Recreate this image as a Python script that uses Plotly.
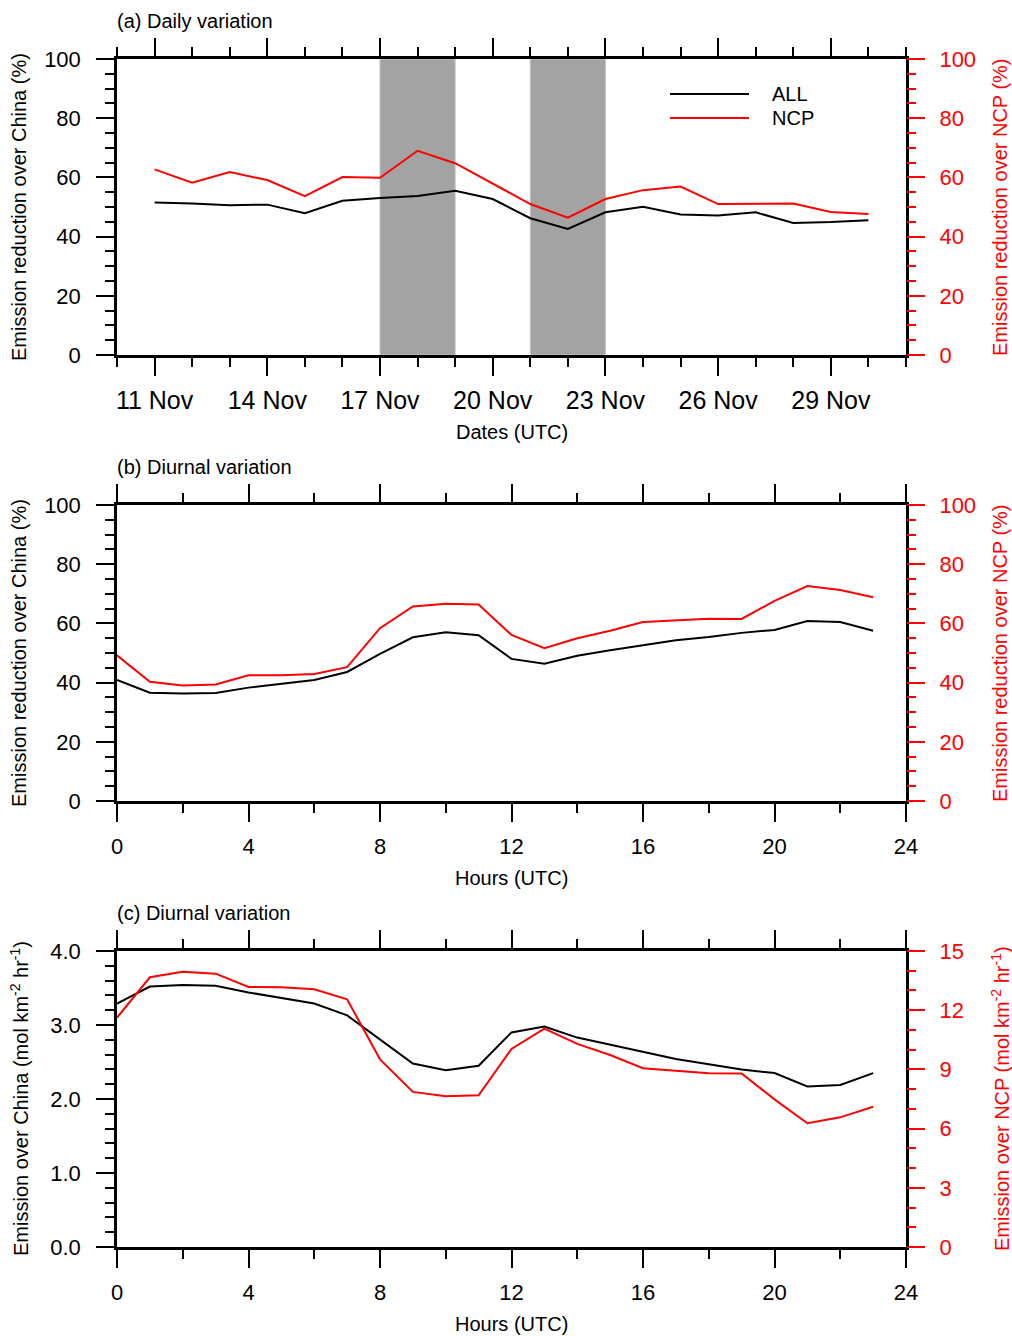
import plotly.graph_objects as go

# ---------------- data ----------------
days = list(range(11, 31))                      # 11 Nov .. 30 Nov
day_tickvals = [11, 14, 17, 20, 23, 26, 29]
day_ticktext = ["11 Nov", "14 Nov", "17 Nov", "20 Nov", "23 Nov", "26 Nov", "29 Nov"]
shade_periods = [(17, 19), (21, 23)]

daily_all = [51.5, 51.2, 50.6, 50.8, 47.9, 52.1, 53.0, 53.7, 55.5, 52.7,
             46.2, 42.6, 48.2, 50.1, 47.5, 47.1, 48.2, 44.6, 44.9, 45.5]
daily_ncp = [62.7, 58.2, 61.8, 59.1, 53.7, 60.1, 59.9, 69.0, 64.8, 58.0,
             51.0, 46.4, 52.7, 55.7, 56.9, 51.0, 51.2, 51.2, 48.3, 47.6]

hours = list(range(0, 24))
diurnal_red_all = [40.9, 36.6, 36.3, 36.5, 38.3, 39.6, 40.9, 43.6, 49.7, 55.3, 57.0, 56.0,
                   48.0, 46.4, 49.1, 50.9, 52.6, 54.3, 55.4, 56.8, 57.8, 60.8, 60.5, 57.5]
diurnal_red_ncp = [49.2, 40.3, 39.0, 39.4, 42.5, 42.5, 42.9, 45.2, 58.4, 65.7, 66.6, 66.4,
                   56.1, 51.6, 55.0, 57.5, 60.5, 61.1, 61.6, 61.5, 67.6, 72.6, 71.3, 68.8]

emis_all = [3.29, 3.52, 3.54, 3.53, 3.44, 3.36, 3.29, 3.13, 2.81, 2.48, 2.39, 2.45,
            2.90, 2.98, 2.83, 2.73, 2.63, 2.54, 2.47, 2.40, 2.35, 2.17, 2.19, 2.35]
emis_ncp = [11.62, 13.67, 13.95, 13.85, 13.18, 13.16, 13.06, 12.55, 9.51, 7.86, 7.64, 7.69,
            10.04, 11.07, 10.29, 9.73, 9.06, 8.92, 8.80, 8.79, 7.48, 6.27, 6.57, 7.11]

# ---------------- layout helpers ----------------
W, H = 1012, 1336
FONT = "Liberation Sans, Arial, Helvetica, sans-serif"
RED = "#ff0000"
x0, x1 = 117, 906
panels = [(59, 355), (505, 801), (951, 1247)]   # top/bottom pixel of each plot area


def py(p):
    return 1 - p / H


fig = go.Figure()

# panel (a)
fig.add_trace(go.Scatter(x=days, y=daily_all, mode="lines", line=dict(color="black", width=2),
                         xaxis="x", yaxis="y", showlegend=False))
fig.add_trace(go.Scatter(x=days, y=daily_ncp, mode="lines", line=dict(color=RED, width=2),
                         xaxis="x", yaxis="y2", showlegend=False))
# panel (b)
fig.add_trace(go.Scatter(x=hours, y=diurnal_red_all, mode="lines", line=dict(color="black", width=2),
                         xaxis="x2", yaxis="y3", showlegend=False))
fig.add_trace(go.Scatter(x=hours, y=diurnal_red_ncp, mode="lines", line=dict(color=RED, width=2),
                         xaxis="x2", yaxis="y4", showlegend=False))
# panel (c)
fig.add_trace(go.Scatter(x=hours, y=emis_all, mode="lines", line=dict(color="black", width=2),
                         xaxis="x3", yaxis="y5", showlegend=False))
fig.add_trace(go.Scatter(x=hours, y=emis_ncp, mode="lines", line=dict(color=RED, width=2),
                         xaxis="x3", yaxis="y6", showlegend=False))

xdom = [x0 / W, x1 / W]
MAJ, MIN = 18, 9


def xaxis_cfg(anchor, rng, tickfont_size, standoff, **kw):
    d = dict(domain=xdom, anchor=anchor, range=rng, showgrid=False, zeroline=False,
             automargin=False,
             showline=True, linecolor="black", linewidth=2.5, mirror="ticks",
             ticks="outside", ticklen=MAJ, tickwidth=2, tickcolor="black",
             tickfont=dict(family=FONT, size=tickfont_size, color="black"),
             ticklabelstandoff=standoff)
    d.update(kw)
    return d


def yleft_cfg(anchor, dom, rng, dtick, minor_dtick, fmt=None):
    d = dict(domain=dom, anchor=anchor, range=rng, showgrid=False, zeroline=False,
             automargin=False,
             showline=True, linecolor="black", linewidth=2.5, mirror=True,
             ticks="outside", ticklen=MAJ, tickwidth=2, tickcolor="black",
             tick0=0, dtick=dtick,
             minor=dict(ticks="outside", ticklen=MIN, tickwidth=1.5, tickcolor="black",
                        dtick=minor_dtick, tick0=0, showgrid=False),
             tickfont=dict(family=FONT, size=22, color="black"),
             ticklabelstandoff=11)
    if fmt:
        d["tickformat"] = fmt
    return d


def yright_cfg(anchor, overlay, rng, dtick, minor_dtick):
    return dict(anchor=anchor, overlaying=overlay, side="right", range=rng,
                showgrid=False, zeroline=False, showline=False, automargin=False,
                ticks="outside", ticklen=MAJ, tickwidth=2, tickcolor=RED,
                tick0=0, dtick=dtick,
                minor=dict(ticks="outside", ticklen=MIN, tickwidth=1.5, tickcolor=RED,
                           dtick=minor_dtick, tick0=0, showgrid=False),
                tickfont=dict(family=FONT, size=22, color=RED),
                ticklabelstandoff=10)


doms = [[py(b), py(t)] for (t, b) in panels]

fig.update_layout(
    width=W, height=H, autosize=False,
    margin=dict(l=0, r=0, t=0, b=0, pad=0),
    paper_bgcolor="white", plot_bgcolor="white",
    font=dict(family=FONT, color="black"),
    showlegend=False,
    xaxis=xaxis_cfg("y", [10, 31], 25, 3, tickvals=day_tickvals, ticktext=day_ticktext,
                    minor=dict(ticks="outside", ticklen=MIN, tickwidth=1.5, tickcolor="black",
                               tick0=10, dtick=1, showgrid=False)),
    yaxis=yleft_cfg("x", doms[0], [0, 100], 20, 5),
    yaxis2=yright_cfg("x", "y", [0, 100], 20, 5),
    xaxis2=xaxis_cfg("y3", [0, 24], 22, 6, tick0=0, dtick=4,
                     minor=dict(ticks="outside", ticklen=MIN, tickwidth=1.5, tickcolor="black",
                                tick0=0, dtick=2, showgrid=False)),
    yaxis3=yleft_cfg("x2", doms[1], [0, 100], 20, 5),
    yaxis4=yright_cfg("x2", "y3", [0, 100], 20, 5),
    xaxis3=xaxis_cfg("y5", [0, 24], 22, 6, tick0=0, dtick=4,
                     minor=dict(ticks="outside", ticklen=MIN, tickwidth=1.5, tickcolor="black",
                                tick0=0, dtick=2, showgrid=False)),
    yaxis5=yleft_cfg("x3", doms[2], [0, 4], 1, 0.2, fmt=".1f"),
    yaxis6=yright_cfg("x3", "y5", [0, 15], 3, 1),
)

# shaded periods in panel (a)
for (s, e) in shade_periods:
    fig.add_shape(type="rect", xref="x", yref="y domain", x0=s, x1=e, y0=0, y1=1,
                  fillcolor="#a3a3a3", line=dict(color="#c4c4c4", width=1), layer="below")

# legend (panel a)
legend_items = [("ALL", "black", 94), ("NCP", RED, 118)]
for name, col, yy in legend_items:
    fig.add_shape(type="line", xref="paper", yref="paper", x0=670 / W, x1=749 / W,
                  y0=py(yy), y1=py(yy), line=dict(color=col, width=2))
    fig.add_annotation(text=name, xref="paper", yref="paper", x=770 / W, y=py(yy),
                       xanchor="left", yanchor="middle", showarrow=False,
                       font=dict(family=FONT, size=20, color="black"))

# panel titles
titles = ["(a) Daily variation", "(b) Diurnal variation", "(c) Diurnal variation"]
for ttl, (t, b) in zip(titles, panels):
    fig.add_annotation(text=ttl, xref="paper", yref="paper", x=115 / W, y=py(t - 38),
                       xanchor="left", yanchor="middle", showarrow=False,
                       font=dict(family=FONT, size=20, color="black"))

# x-axis titles
xtitles = ["Dates (UTC)", "Hours (UTC)", "Hours (UTC)"]
for ttl, (t, b) in zip(xtitles, panels):
    fig.add_annotation(text=ttl, xref="paper", yref="paper", x=512 / W, y=py(b + 77),
                       xanchor="center", yanchor="middle", showarrow=False,
                       font=dict(family=FONT, size=20, color="black"))

# y-axis titles
ylt = ["Emission reduction over China (%)", "Emission reduction over China (%)",
       "Emission over China (mol km<sup>-2</sup> hr<sup>-1</sup>)"]
yrt = ["Emission reduction over NCP (%)", "Emission reduction over NCP (%)",
       "Emission over NCP (mol km<sup>-2</sup> hr<sup>-1</sup>)"]
for lt, rt, (t, b) in zip(ylt, yrt, panels):
    yc = py((t + b) / 2)
    fig.add_annotation(text=lt, xref="paper", yref="paper", x=19 / W, y=yc,
                       xanchor="center", yanchor="middle", textangle=-90, showarrow=False,
                       font=dict(family=FONT, size=20, color="black"))
    fig.add_annotation(text=rt, xref="paper", yref="paper", x=1000 / W, y=yc,
                       xanchor="center", yanchor="middle", textangle=-90, showarrow=False,
                       font=dict(family=FONT, size=20, color=RED))

fig.write_html(
    "out.html",
    config={"displayModeBar": False},
    post_script="document.body.style.margin='0';document.body.style.padding='0';"
                "document.body.style.overflow='hidden';",
)
